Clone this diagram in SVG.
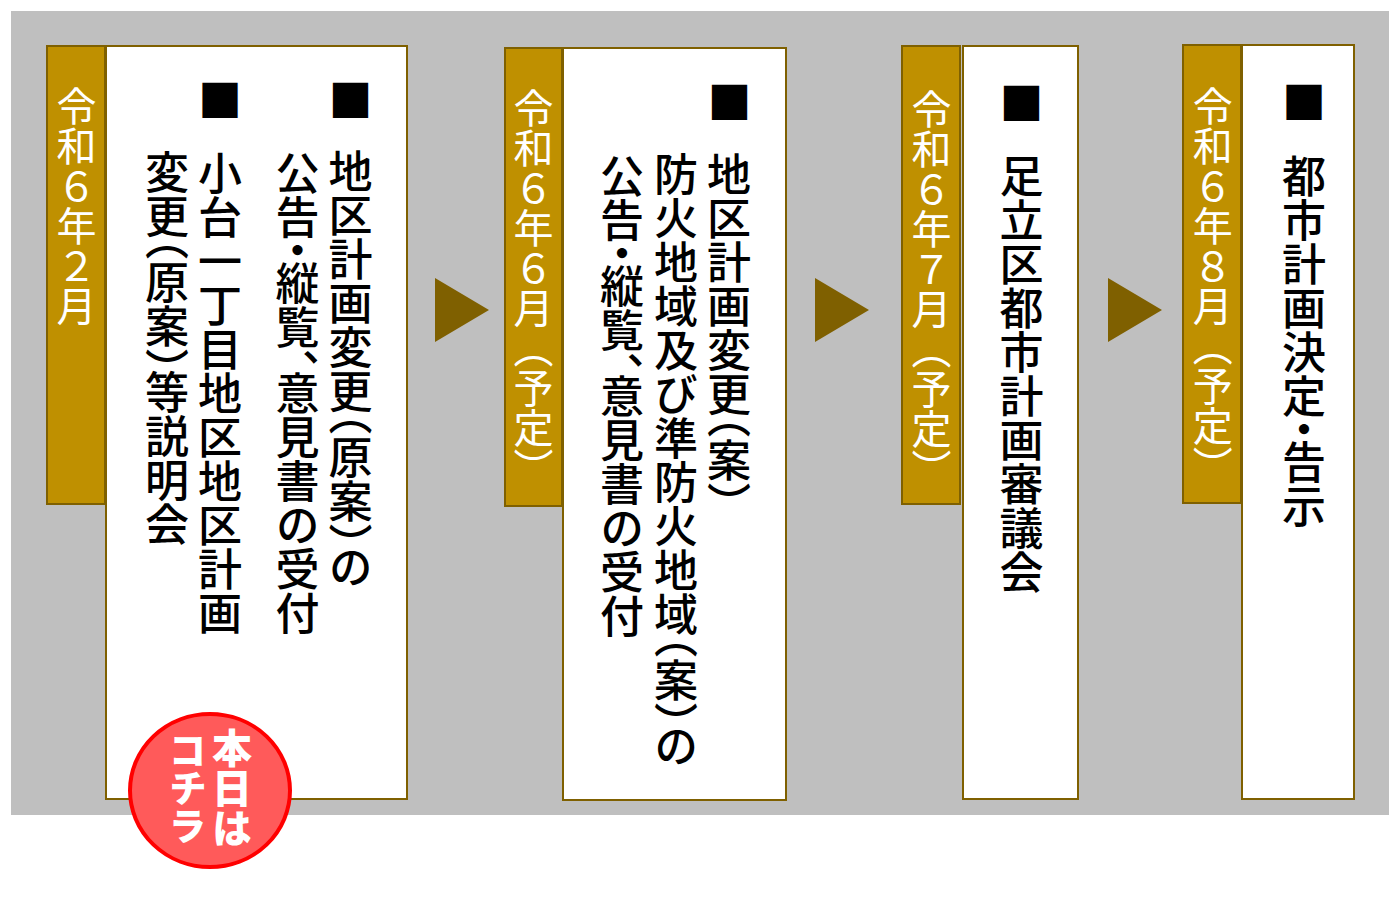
<svg xmlns="http://www.w3.org/2000/svg" width="1389" height="907" viewBox="0 0 1389 907">
<style>
.bg{fill:#bfbfbf}
.lab{fill:#bf9000;stroke:#7f6000;stroke-width:2}
.box{fill:#fff;stroke:#7f6000;stroke-width:2}
.arr{fill:#7f6000}
.v{writing-mode:vertical-rl;font-family:"Noto Sans CJK JP","Noto Sans CJK SC",sans-serif}
.m{font-size:44px;font-weight:500;fill:#000;font-feature-settings:"vhal" 1}
.l{font-size:40px;font-weight:400;fill:#fff}
.sq{font-family:"Noto Sans CJK JP",sans-serif;font-size:44px;fill:#000;text-anchor:middle;dominant-baseline:central}
.st{font-size:40px;font-weight:900;fill:#fff}
</style>
<rect class="bg" x="11" y="11" width="1378" height="804"/>
<g id="connectors">
<polygon class="arr" points="435,278 489,310 435,342"/>
<polygon class="arr" points="815,278 869,310 815,342"/>
<polygon class="arr" points="1108,278 1162,310 1108,342"/>
</g>
<g id="step1">
<rect class="box" x="106" y="46" width="301" height="753"/>
<rect class="lab" x="47" y="46" width="58" height="458"/>
<text class="v l" x="76.5" y="86">令和６年２月</text>
<text class="sq" x="350.5" y="97.5">■</text>
<text class="sq" x="220" y="98">■</text>
<text class="v m" x="350.5" y="149">地区計画変更（原案）の</text>
<text class="v m" x="297.5" y="151">公告・縦覧、意見書の受付</text>
<text class="v m" x="220" y="151">小台一丁目地区地区計画</text>
<text class="v m" x="167" y="150">変更（原案）等説明会</text>
</g>
<g id="step2">
<rect class="box" x="563" y="48" width="223" height="752"/>
<rect class="lab" x="505" y="48" width="57" height="458"/>
<text class="v l" x="533.5" y="88">令和６年６月（予定）</text>
<text class="sq" x="729.5" y="99.5">■</text>
<text class="v m" x="729" y="152">地区計画変更（案）</text>
<text class="v m" x="676" y="152">防火地域及び準防火地域（案）の</text>
<text class="v m" x="622" y="154">公告・縦覧、意見書の受付</text>
</g>
<g id="step3">
<rect class="box" x="963" y="46" width="115" height="753"/>
<rect class="lab" x="902" y="46" width="58" height="458"/>
<text class="v l" x="931.5" y="89">令和６年７月（予定）</text>
<text class="sq" x="1021.6" y="101">■</text>
<text class="v m" x="1021.5" y="154">足立区都市計画審議会</text>
</g>
<g id="step4">
<rect class="box" x="1242" y="45" width="112" height="754"/>
<rect class="lab" x="1183" y="45" width="58" height="458"/>
<text class="v l" x="1212.7" y="86">令和６年８月（予定）</text>
<text class="sq" x="1304" y="99.5">■</text>
<text class="v m" x="1304" y="154">都市計画決定・告示</text>
</g>
<g id="today-badge">
<ellipse cx="210" cy="790.5" rx="80" ry="76.5" fill="#ff5a5a" stroke="#ff0000" stroke-width="4"/>
<text class="v st" x="232" y="728">本日は</text>
<text class="v st" x="188" y="731" style="font-size:38px">コチラ</text>
</g>
</svg>
